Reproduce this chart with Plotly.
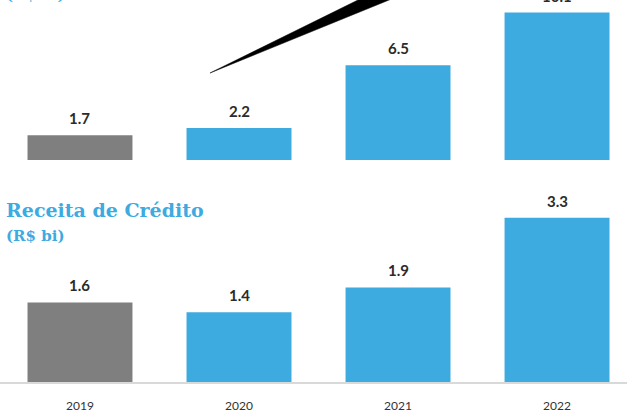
import plotly.graph_objects as go
from plotly.subplots import make_subplots

years = ["2019", "2020", "2021", "2022"]
top_values = [1.7, 2.2, 6.5, 10.1]
credit_values = [1.6, 1.4, 1.9, 3.3]
top_labels = ["1.7", "2.2", "6.5", "10.1"]
credit_labels = ["1.6", "1.4", "1.9", "3.3"]

GRAY = "#7F7F7F"
BLUE = "#3DAAE0"
colors = [GRAY, BLUE, BLUE, BLUE]
label_font = dict(family="Lato, 'DejaVu Sans Condensed', sans-serif", size=15, color="#2B2B2B",
                  weight="bold")

fig = make_subplots(rows=2, cols=1, vertical_spacing=0.0)

fig.add_trace(go.Bar(x=years, y=top_values, marker_color=colors, marker_line_width=0,
                     cliponaxis=False, width=0.66, hoverinfo="skip"), row=1, col=1)
fig.add_trace(go.Bar(x=years, y=credit_values, marker_color=colors, marker_line_width=0,
                     cliponaxis=False, width=0.66, hoverinfo="skip"), row=2, col=1)

# value labels: placed at each category's index position on the category axis
for ys, labels, xr, yr in [(top_values, top_labels, "x", "y"),
                           (credit_values, credit_labels, "x2", "y2")]:
    for i, (yv, lab) in enumerate(zip(ys, labels)):
        fig.add_annotation(x=i, y=yv, xref=xr, yref=yr, text=lab, showarrow=False,
                           yanchor="middle", yshift=17, font=label_font)

fig.update_layout(
    width=627, height=412,
    margin=dict(l=0, r=0, t=0, b=30),
    paper_bgcolor="white", plot_bgcolor="white",
    showlegend=False,
    xaxis=dict(type="category", domain=[0, 1], range=[-0.503, 3.44], showticklabels=False,
               showline=False, showgrid=False, zeroline=False, ticks=""),
    yaxis=dict(domain=[0.581, 1], range=[0, 10.96], visible=False),
    xaxis2=dict(type="category", domain=[0, 1], range=[-0.503, 3.44], showline=True,
                linecolor="#D9D9D9", linewidth=1.5, showgrid=False, zeroline=False, ticks="",
                ticklabelstandoff=12,
                tickfont=dict(family="Lato, 'DejaVu Sans Condensed', sans-serif", size=12, color="#333333")),
    yaxis2=dict(domain=[0, 0.5], range=[0, 3.84], visible=False),
)

title_font = dict(family="'DejaVu Serif', serif", color=BLUE)
fig.add_annotation(xref="paper", yref="paper", x=4 / 627.0, y=(382 - 210) / 382.0,
                   xanchor="left", yanchor="middle", showarrow=False,
                   text="<b>Receita de Crédito</b>", font=dict(size=19, **title_font))
fig.add_annotation(xref="paper", yref="paper", x=4 / 627.0, y=(382 - 236) / 382.0,
                   xanchor="left", yanchor="middle", showarrow=False,
                   text="<b>(R$ bi)</b>", font=dict(size=15, **title_font))
fig.add_annotation(xref="paper", yref="paper", x=4 / 627.0, y=(382 + 5) / 382.0,
                   xanchor="left", yanchor="middle", showarrow=False,
                   text="<b>(R$ bi)</b>", font=dict(size=15, **title_font))

# decorative growth arrow (wedge)
def px(xp, yp):
    return xp / 627.0, (382 - yp) / 382.0

p0 = px(210, 73)
p1 = px(362, -2)
p2 = px(394, -2)
fig.add_shape(type="path", xref="paper", yref="paper",
              path=f"M {p0[0]},{p0[1]} L {p1[0]},{p1[1]} L {p2[0]},{p2[1]} Z",
              fillcolor="black", line=dict(color="black", width=0.5))

fig.write_html("out.html", config={"displayModeBar": False},
               post_script="document.body.style.margin='0';")
